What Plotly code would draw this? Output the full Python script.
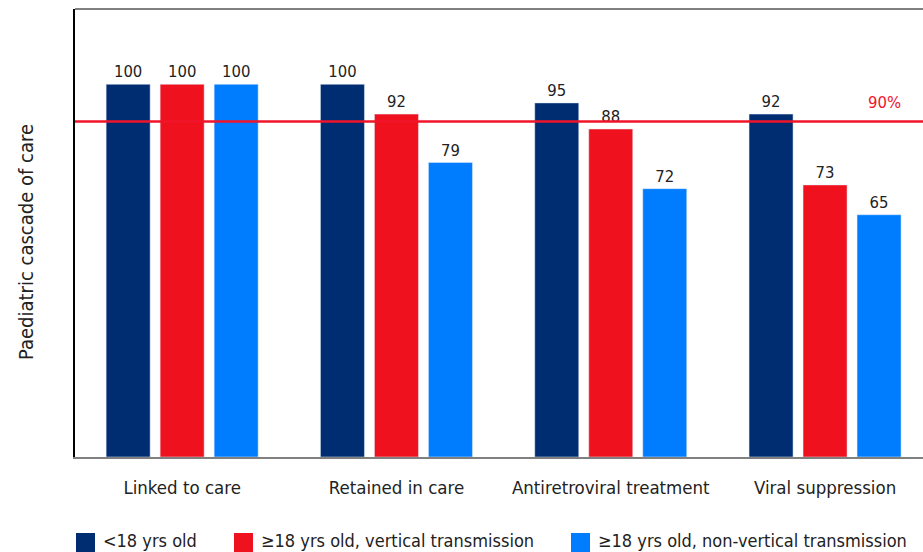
import plotly.graph_objects as go

categories = ["Linked to care", "Retained in care", "Antiretroviral treatment", "Viral suppression"]
series_names = ["<18 yrs old", "≥18 yrs old, vertical transmission", "≥18 yrs old, non-vertical transmission"]
under18 = [100, 100, 95, 92]
vertical = [100, 92, 88, 73]
nonvertical = [100, 79, 72, 65]
series_values = [under18, vertical, nonvertical]
colors = ["#002D72", "#F0111E", "#007DFF"]
target = 90
target_label = "90%"
y_title = "Paediatric cascade of care"

FONT = "DejaVu Sans Condensed"
W, H = 923, 552
ML, MR, MT, MB = 75, 0, 9, 95
pw = W - ML - MR
ph = H - MT - MB

fig = go.Figure()
for name, vals, col in zip(series_names, series_values, colors):
    fig.add_trace(go.Bar(
        x=categories, y=vals, name=name, marker_color=col,
        text=[str(v) for v in vals], textposition="outside",
        textfont=dict(family=FONT, size=16.5, color="#222"),
        cliponaxis=False, showlegend=False,
    ))

fig.add_shape(type="line", xref="paper", yref="y", x0=0, x1=1, y0=target, y1=target,
              line=dict(color="#F0142A", width=2.5), layer="above")
fig.add_annotation(xref="paper", yref="y", x=(903 - ML) / pw, y=target, xanchor="right",
                   yanchor="bottom", yshift=8, text=target_label, showarrow=False,
                   font=dict(family=FONT, size=16.5, color="#F0142A"))

# top border
fig.add_shape(type="line", xref="paper", yref="paper", x0=0, x1=1, y0=1, y1=1,
              line=dict(color="#808080", width=2))

# y-axis title
fig.add_annotation(xref="paper", yref="paper", x=(26 - ML) / pw, y=(MT + ph - 242) / ph,
                   xanchor="center", yanchor="middle", textangle=-90, text=y_title,
                   showarrow=False, font=dict(family=FONT, size=20, color="#222"))

# custom legend
legend_x = [76, 234, 571]
sq = 19
for name, col, lx in zip(series_names, colors, legend_x):
    x0 = (lx - ML) / pw
    x1 = (lx + sq - ML) / pw
    y0 = (MT + ph - 533) / ph
    y1 = (MT + ph - 552) / ph
    fig.add_shape(type="rect", xref="paper", yref="paper", x0=x0, x1=x1, y0=y0, y1=y1,
                  fillcolor=col, line=dict(width=0))
    fig.add_annotation(xref="paper", yref="paper", x=(lx + sq + 6 - ML) / pw,
                       y=(MT + ph - 540) / ph, xanchor="left", yanchor="middle",
                       text=name, showarrow=False,
                       font=dict(family=FONT, size=18, color="#222"))

fig.update_layout(
    width=W, height=H,
    margin=dict(l=ML, r=MR, t=MT, b=MB),
    paper_bgcolor="white", plot_bgcolor="white",
    barmode="group", bargap=0.244, bargroupgap=0.185,
    font=dict(family=FONT, size=18, color="#222"),
    xaxis=dict(range=[-0.5, -0.5 + pw / 214.3], showline=True, linecolor="#808080",
               linewidth=2, showgrid=False, ticks="", ticklabelstandoff=13,
               tickfont=dict(family=FONT, size=18.5, color="#222")),
    yaxis=dict(range=[0, 120.2], showline=True, linecolor="black", linewidth=1.5,
               showgrid=False, showticklabels=False, ticks="", zeroline=False),
)

fig.write_html("out.html")
